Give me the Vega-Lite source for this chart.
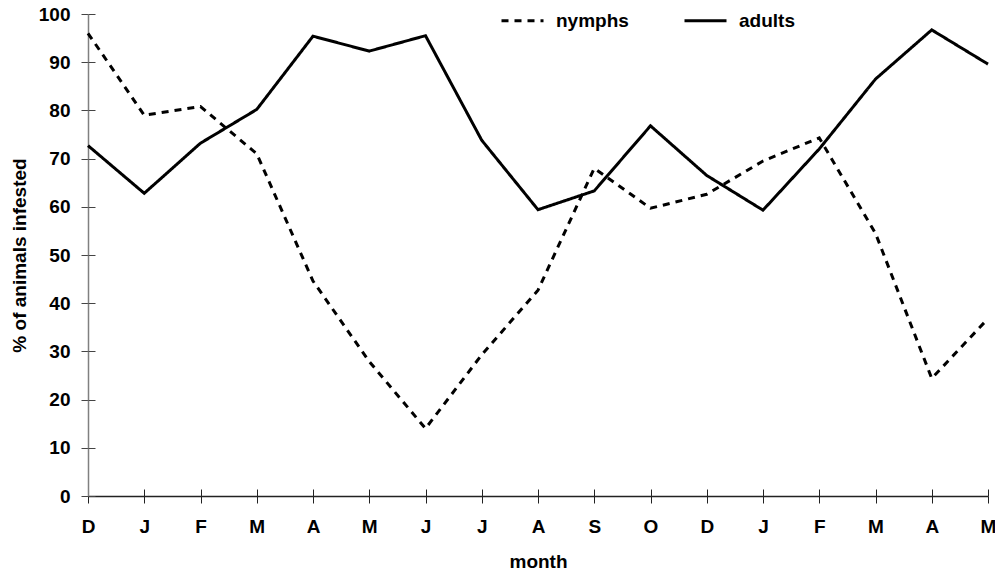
{
  "$schema": "https://vega.github.io/schema/vega-lite/v6.json",
  "width": 900,
  "height": 482,
  "autosize": {"type": "none"},
  "padding": {"left": 88, "top": 14, "right": 7, "bottom": 81},
  "background": "white",
  "config": {
    "view": {"stroke": null},
    "font": "Liberation Sans",
    "axis": {"grid": false, "labelFont": "Liberation Sans", "titleFont": "Liberation Sans", "labelFontWeight": "bold", "titleFontWeight": "bold", "labelColor": "black", "titleColor": "black"},
    "legend": {"labelFont": "Liberation Sans", "labelFontWeight": "bold"}
  },
  "data": {
    "values": [
      {"period": "D-1", "series": "nymphs", "pct": 96.0},
      {"period": "J-1", "series": "nymphs", "pct": 79.0},
      {"period": "F-1", "series": "nymphs", "pct": 80.8},
      {"period": "M-1", "series": "nymphs", "pct": 71.0},
      {"period": "A-1", "series": "nymphs", "pct": 44.6},
      {"period": "M-2", "series": "nymphs", "pct": 27.9},
      {"period": "J-2", "series": "nymphs", "pct": 14.0},
      {"period": "J-3", "series": "nymphs", "pct": 29.3},
      {"period": "A-2", "series": "nymphs", "pct": 42.7},
      {"period": "S-1", "series": "nymphs", "pct": 68.0},
      {"period": "O-1", "series": "nymphs", "pct": 59.7},
      {"period": "D-2", "series": "nymphs", "pct": 62.6},
      {"period": "J-4", "series": "nymphs", "pct": 69.5},
      {"period": "F-2", "series": "nymphs", "pct": 74.3},
      {"period": "M-3", "series": "nymphs", "pct": 54.5},
      {"period": "A-3", "series": "nymphs", "pct": 24.4},
      {"period": "M-4", "series": "nymphs", "pct": 36.8},
      {"period": "D-1", "series": "adults", "pct": 72.7},
      {"period": "J-1", "series": "adults", "pct": 62.8},
      {"period": "F-1", "series": "adults", "pct": 73.2},
      {"period": "M-1", "series": "adults", "pct": 80.2},
      {"period": "A-1", "series": "adults", "pct": 95.4},
      {"period": "M-2", "series": "adults", "pct": 92.3},
      {"period": "J-2", "series": "adults", "pct": 95.5},
      {"period": "J-3", "series": "adults", "pct": 73.8},
      {"period": "A-2", "series": "adults", "pct": 59.4},
      {"period": "S-1", "series": "adults", "pct": 63.3},
      {"period": "O-1", "series": "adults", "pct": 76.8},
      {"period": "D-2", "series": "adults", "pct": 66.5},
      {"period": "J-4", "series": "adults", "pct": 59.3},
      {"period": "F-2", "series": "adults", "pct": 72.0},
      {"period": "M-3", "series": "adults", "pct": 86.5},
      {"period": "A-3", "series": "adults", "pct": 96.7},
      {"period": "M-4", "series": "adults", "pct": 89.6}
    ]
  },
  "layer": [
    {
      "mark": {"type": "line", "strokeWidth": 3, "color": "black", "strokeCap": "butt", "strokeJoin": "miter"},
      "encoding": {
        "x": {
          "field": "period", "type": "ordinal", "sort": null,
          "scale": {"type": "point", "padding": 0},
          "axis": {
            "orient": "bottom", "title": "month", "titleFontSize": 19, "titlePadding": 16,
            "labelFontSize": 19, "labelAngle": 0, "labelPadding": 14,
            "labelExpr": "split(datum.label, '-')[0]",
            "tickSize": 7, "tickColor": "#222", "tickWidth": 1,
            "domainColor": "#222", "domainWidth": 1.3
          }
        },
        "y": {
          "field": "pct", "type": "quantitative",
          "scale": {"domain": [0, 100], "nice": false},
          "axis": {
            "orient": "left", "title": "% of animals infested", "titleFontSize": 19, "titlePadding": 9,
            "values": [0, 10, 20, 30, 40, 50, 60, 70, 80, 90, 100],
            "labelFontSize": 19, "labelPadding": 11,
            "tickSize": 7, "tickColor": "#444", "tickWidth": 1,
            "domainColor": "#808080", "domainWidth": 1.5
          }
        },
        "strokeDash": {
          "field": "series", "type": "nominal",
          "scale": {"domain": ["nymphs", "adults"], "range": [[7, 6], [1, 0]]},
          "legend": {
            "title": null, "orient": "none", "direction": "horizontal",
            "legendX": 412, "legendY": -16,
            "symbolType": "stroke", "symbolSize": 1764, "symbolStrokeWidth": 3, "symbolStrokeColor": "black",
            "labelFontSize": 19, "labelOffset": 11, "columnPadding": 49, "labelColor": "black"
          }
        }
      }
    },
    {
      "mark": {"type": "line", "opacity": 0},
      "encoding": {
        "x": {
          "field": "period", "type": "ordinal", "sort": null,
          "axis": {"orient": "bottom", "title": null, "labels": false, "domain": false, "tickSize": -7, "tickColor": "#222", "tickWidth": 1}
        },
        "y": {
          "field": "pct", "type": "quantitative",
          "axis": {"orient": "left", "title": null, "labels": false, "domain": false, "tickSize": -7, "tickColor": "#444", "tickWidth": 1, "values": [0, 10, 20, 30, 40, 50, 60, 70, 80, 90, 100]}
        },
        "detail": {"field": "series"}
      }
    }
  ],
  "resolve": {"axis": {"x": "independent", "y": "independent"}}
}
